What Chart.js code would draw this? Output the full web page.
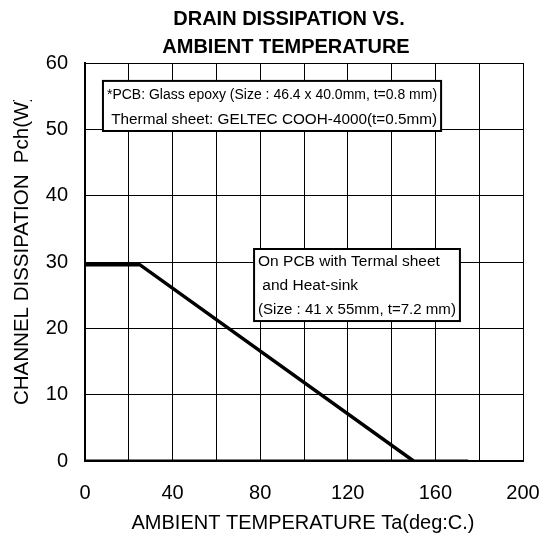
<!DOCTYPE html>
<html>
<head>
<meta charset="utf-8">
<script src="https://cdn.jsdelivr.net/npm/chart.js@4.4.1/dist/chart.umd.min.js"></script>
<style>
  html, body { margin: 0; padding: 0; background: #fff; }
  #wrap { width: 542px; height: 540px; }
</style>
</head>
<body>
<div id="wrap"><canvas id="pchChart" width="542" height="540"></canvas></div>
<script>
// derating curve
const curveTemp = [0, 25, 150];
const curvePch = [29.6, 29.6, 0];
// zero line drawn along the bottom
const zeroTemp = [0, 175];
const zeroPch = [0, 0];

const xTicks = [0, 40, 80, 120, 160, 200];
const yTicks = [0, 10, 20, 30, 40, 50, 60];

const titleLines = ['DRAIN DISSIPATION VS.', 'AMBIENT TEMPERATURE'];
const xTitle = 'AMBIENT TEMPERATURE Ta(deg:C.)';
const yTitle = 'CHANNEL DISSIPATION  Pch(W)';

// note boxes, corners in data units
const noteBoxes = [
  { x0: 8.2, x1: 162.6, y0: 57.3, y1: 49.75,
    lines: ['*PCB: Glass epoxy (Size : 46.4 x 40.0mm, t=0.8 mm)', ' Thermal sheet: GELTEC COOH-4000(t=0.5mm)'] },
  { x0: 77.2, x1: 171.2, y0: 31.96, y1: 21.1,
    lines: ['On PCB with Termal sheet', ' and Heat-sink', '(Size : 41 x 55mm, t=7.2 mm)'] }
];

const FONT = '"Liberation Sans", Arial, sans-serif';

const toPoints = (xs, ys) => xs.map((x, i) => ({ x: x, y: ys[i] }));

const decorPlugin = {
  id: 'decor',
  afterDraw(chart) {
    const ctx = chart.ctx;
    const xs = chart.scales.x, ys = chart.scales.y;
    ctx.save();
    ctx.fillStyle = '#000';

    // title
    ctx.font = 'bold 20px ' + FONT;
    ctx.textAlign = 'center';
    ctx.textBaseline = 'middle';
    ctx.fillText(titleLines[0], 289, 19);
    ctx.fillText(titleLines[1], 286, 47);

    // x title
    ctx.font = '20px ' + FONT;
    ctx.fillText(xTitle, 303, 523);

    // y title (cut off at the top like the source)
    ctx.save();
    ctx.beginPath();
    ctx.rect(0, 100, 60, 440);
    ctx.clip();
    ctx.translate(22, 405);
    ctx.rotate(-Math.PI / 2);
    ctx.textAlign = 'left';
    ctx.font = '20.5px ' + FONT;
    ctx.fillText(yTitle, 0, 0);
    ctx.restore();

    // note boxes
    ctx.font = '15.5px ' + FONT;
    ctx.textAlign = 'left';
    noteBoxes.forEach(b => {
      const l = xs.getPixelForValue(b.x0), r = xs.getPixelForValue(b.x1);
      const t = ys.getPixelForValue(b.y0), btm = ys.getPixelForValue(b.y1);
      ctx.fillStyle = '#fff';
      ctx.fillRect(l, t, r - l, btm - t);
      ctx.strokeStyle = '#000';
      ctx.lineWidth = 2;
      ctx.strokeRect(l, t, r - l, btm - t);
      ctx.fillStyle = '#000';
      const step = (btm - t) / b.lines.length;
      b.lines.forEach((s, i) => ctx.fillText(s, l + 4, t + step * (i + 0.5) + 1, r - l - 8));
    });
    ctx.restore();
  }
};

new Chart(document.getElementById('pchChart'), {
  type: 'scatter',
  data: {
    datasets: [
      { data: toPoints(curveTemp, curvePch), showLine: true, borderColor: '#000',
        borderWidth: 3.5, pointRadius: 0, tension: 0 },
      { data: toPoints(zeroTemp, zeroPch), showLine: true, borderColor: '#000',
        borderWidth: 3, pointRadius: 0, tension: 0 }
    ]
  },
  options: {
    responsive: false,
    animation: false,
    layout: { padding: { left: 0, top: 63, right: 19, bottom: 0 } },
    plugins: { legend: { display: false }, tooltip: { enabled: false } },
    scales: {
      x: {
        type: 'linear', min: 0, max: 200,
        afterFit(s) { s.height = 79; s.paddingLeft = 0; s.paddingRight = 0; },
        afterBuildTicks(s) { s.ticks = []; for (let v = 0; v <= 200; v += 20) s.ticks.push({ value: v }); },
        ticks: {
          color: '#000', font: { family: FONT, size: 20 }, padding: 20, maxRotation: 0, autoSkip: false,
          callback: v => xTicks.includes(v) ? String(v) : ''
        },
        grid: { color: '#000', lineWidth: 1, drawTicks: false },
        border: { color: '#000', width: 2 }
      },
      y: {
        type: 'linear', min: 0, max: 60,
        afterFit(s) { s.width = 85; s.paddingTop = 0; s.paddingBottom = 0; },
        afterBuildTicks(s) { s.ticks = yTicks.map(v => ({ value: v })); },
        ticks: { color: '#000', font: { family: FONT, size: 20 }, padding: 17 },
        grid: { color: '#000', lineWidth: 1, drawTicks: false },
        border: { color: '#000', width: 2 }
      }
    }
  },
  plugins: [decorPlugin]
});
</script>
</body>
</html>
